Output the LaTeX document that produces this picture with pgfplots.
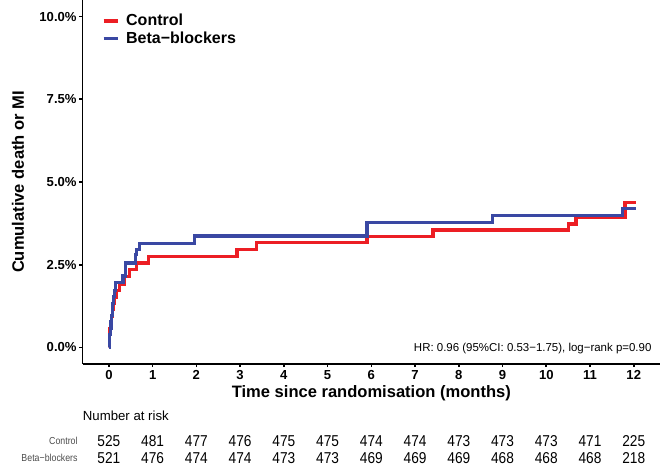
\documentclass[border=0pt]{standalone}
\usepackage{pgfplots}
\pgfplotsset{compat=1.18}
\usepackage{pgfplotstable}
\usepackage{fontspec}
\setmainfont{Liberation Sans}
\newfontfamily\narrowfont[FakeStretch=0.87]{Liberation Sans}
\definecolor{ctrlred}{RGB}{236,30,36}
\definecolor{betablue}{RGB}{58,72,163}

% number at risk, one row per arm
\pgfplotstableread{
x  ctrl beta yc    yb
0  525  521  -2.82 -3.35
1  481  476  -2.82 -3.35
2  477  474  -2.82 -3.35
3  476  474  -2.82 -3.35
4  475  473  -2.82 -3.35
5  475  473  -2.82 -3.35
6  474  469  -2.82 -3.35
7  474  469  -2.82 -3.35
8  473  469  -2.82 -3.35
9  473  468  -2.82 -3.35
10 473  468  -2.82 -3.35
11 471  468  -2.82 -3.35
12 225  218  -2.82 -3.35
}\risktable

\begin{document}
\begin{tikzpicture}
\path[use as bounding box] (-62.0pt,-76.5pt) rectangle (433pt,273pt);
\begin{axis}[
    at={(0,0)}, anchor=south west,
    width=433pt, height=273pt, scale only axis,
    xmin=-0.6, xmax=12.6,
    ymin=-0.5, ymax=10.5,
    xtick={0,1,...,12},
    ytick={0,2.5,5,7.5,10},
    axis x line*=bottom, axis y line*=left,
    axis line style={line width=1.2pt, -},
    tick style={line width=1.2pt, black},
    tick align=outside, major tick length=2.4pt,
    /pgf/number format/assume math mode=true,
    yticklabel={\pgfmathprintnumber[fixed,fixed zerofill,precision=1]{\tick}\%},
    ticklabel style={font=\bfseries\fontsize{9.8}{11}\selectfont, inner sep=2pt},
    xlabel={Time since randomisation (months)},
    ylabel={Cumulative death or MI},
    label style={font=\bfseries\fontsize{12.4}{14}\selectfont},
    xlabel style={at={(axis description cs:0.5,-0.0907)}, anchor=base},
    ylabel style={at={(axis description cs:-0.112,0.5)}, anchor=center, rotate=0},
    clip=false,
    legend style={at={(axis description cs:0.033,0.969)}, anchor=north west,
        draw=none, fill=none, inner sep=0pt,
        font=\bfseries\fontsize{12}{13}\selectfont,
        row sep=-1.2pt},
    legend cell align=left,
    legend image code/.code={\draw[#1, line width=2.3pt] (0pt,0pt) -- (10.5pt,0pt);
        \path[draw=none] (0pt,0pt) -- (15pt,0pt);},
]
\addplot[const plot, ctrlred, line width=2.4pt] coordinates {
(0,0)(0.01,0.38)(0.02,0.57)(0.03,0.76)(0.06,0.95)(0.08,1.14)(0.1,1.33)
(0.13,1.52)(0.18,1.71)(0.25,1.92)(0.36,2.14)(0.47,2.35)(0.63,2.55)(0.9,2.75)
(2.93,2.95)(3.37,3.17)(5.9,3.35)(7.41,3.55)(10.5,3.73)(10.68,3.93)(11.8,4.38)(12.05,4.38)
};
\addlegendentry{Control}
\addplot[const plot, betablue, line width=2.4pt] coordinates {
(0,0)(0.01,0.19)(0.02,0.38)(0.03,0.58)(0.05,0.77)(0.06,0.96)(0.08,1.15)
(0.09,1.34)(0.1,1.54)(0.13,1.73)(0.15,1.96)(0.32,2.16)(0.38,2.55)(0.6,2.8)
(0.64,2.95)(0.7,3.15)(1.95,3.37)(5.9,3.77)(8.77,3.98)(11.75,4.2)(12.04,4.2)
};
\addlegendentry{Beta−blockers}

\addplot[forget plot, draw=none, mark=none, nodes near coords, point meta=explicit symbolic,
    nodes near coords style={anchor=center, font=\narrowfont\fontsize{11.8}{12}\selectfont}]
    table[x=x, y=yc, meta=ctrl] {\risktable};
\addplot[forget plot, draw=none, mark=none, nodes near coords, point meta=explicit symbolic,
    nodes near coords style={anchor=center, font=\narrowfont\fontsize{11.8}{12}\selectfont}]
    table[x=x, y=yb, meta=beta] {\risktable};

\node[anchor=west, inner sep=0pt, font=\fontsize{9.9}{11}\selectfont] at (axis cs:-0.6,-2.08) {Number at risk};
\node[anchor=east, inner sep=0pt, font=\narrowfont\fontsize{7.6}{9}\selectfont, text=black!70] at (axis cs:-0.71,-2.82) {Control};
\node[anchor=east, inner sep=0pt, font=\narrowfont\fontsize{7.6}{9}\selectfont, text=black!70] at (axis cs:-0.71,-3.35) {Beta−blockers};
\node[anchor=east, inner sep=0pt, font=\fontsize{8.6}{10}\selectfont] at (axis description cs:0.9856,0.043) {HR: 0.96 (95\%CI: 0.53−1.75), log−rank p=0.90};
\end{axis}
\end{tikzpicture}
\end{document}
